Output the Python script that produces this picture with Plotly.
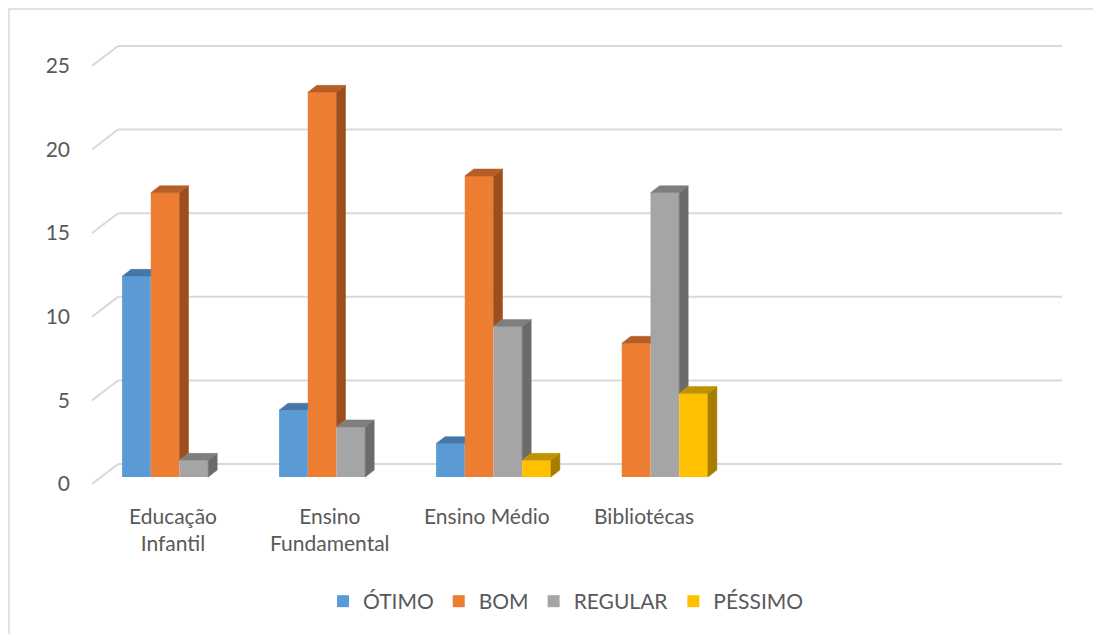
import plotly.graph_objects as go

# ---------------- data ----------------
categories = ["Educação<br>Infantil", "Ensino<br>Fundamental", "Ensino Médio", "Bibliotécas"]
n_slots = 6  # category slots on the axis (last two empty)
series_names = ["ÓTIMO", "BOM", "REGULAR", "PÉSSIMO"]
otimo = [12, 4, 2, 0]
bom = [17, 23, 18, 8]
regular = [1, 3, 9, 17]
pessimo = [0, 0, 1, 5]
y_ticks = [0, 5, 10, 15, 20, 25]

series = [otimo, bom, regular, pessimo]
front_colors = ["#5B9BD5", "#ED7D31", "#A5A5A5", "#FFC000"]
top_colors = ["#4576A5", "#B65E25", "#7E7E7E", "#C29100"]
side_colors = ["#3D6892", "#9C4E1C", "#6B6B6B", "#A67D00"]

# ---------------- geometry (page pixel -> data units) ----------------
OFF = 8                   # page body margin
W, H = 1093, 626          # figure size (page is 1101x634)
PX_X = 157.0      # pixels per category
PX_Y = 16.8       # pixels per value unit
X0_PX = 179.5     # page pixel of category 0 centre
Y0_PX = 479.0     # page pixel of value 0 (front plane)
L_PX, R_PX, T_PX, B_PX = 80, 1080, 30, 495   # plot area in page pixels

w = 28.7 / PX_X           # bar width
dx = 9 / PX_X             # bar depth offset (x)
dy = 7 / PX_Y             # bar depth offset (y)
FX = (92 - X0_PX) / PX_X  # front-left end of grid diagonals
FY = (Y0_PX - 486) / PX_Y
BDX = 26 / PX_X           # wall depth
BDY = 20 / PX_Y
BACK_END = (1062 - X0_PX) / PX_X
LABEL_DX = -7 / PX_X

xr_range = [(L_PX - X0_PX) / PX_X, (R_PX - X0_PX) / PX_X]
yr_range = [(Y0_PX - B_PX) / PX_Y, (Y0_PX - T_PX) / PX_Y]

def px_to_paper_x(px):
    return (px - L_PX) / (R_PX - L_PX)

def px_to_paper_y(py):
    return (B_PX - py) / (B_PX - T_PX)

fig = go.Figure()

# front faces
for k, (name, vals) in enumerate(zip(series_names, series)):
    fig.add_trace(go.Bar(
        name=name,
        x=[i + (k - 1.5) * w for i in range(len(vals))],
        y=vals,
        width=w,
        marker=dict(color=front_colors[k], line=dict(width=0)),
        hovertemplate=name + ": %{y}<extra></extra>",
    ))

# side & top faces
for i in range(len(categories)):
    for k in range(4):
        v = series[k][i]
        if v <= 0:
            continue
        xl = i + (k - 2) * w
        xr = xl + w
        nxt = series[k + 1][i] if k < 3 else 0
        b = min(max(nxt, 0), v)
        if b < v:
            fig.add_trace(go.Scatter(
                x=[xr, xr + dx, xr + dx, xr, xr],
                y=[b, b + dy, v + dy, v, b],
                fill="toself", mode="lines",
                line=dict(width=0.5, color=side_colors[k]),
                fillcolor=side_colors[k],
                hoverinfo="skip", showlegend=False,
            ))
        if nxt >= v:
            tx = [xl, xl + dx, xr, xr, xl]
        else:
            tx = [xl, xl + dx, xr + dx, xr, xl]
        ty = [v, v + dy, v + dy, v, v]
        fig.add_trace(go.Scatter(
            x=tx, y=ty, fill="toself", mode="lines",
            line=dict(width=0.5, color=top_colors[k]),
            fillcolor=top_colors[k],
            hoverinfo="skip", showlegend=False,
        ))

shapes = []
grid_color = "#D9D9D9"
for v in y_ticks:
    shapes.append(dict(type="line", xref="x", yref="y", layer="below",
                       x0=FX, y0=v + FY, x1=FX + BDX, y1=v + FY + BDY,
                       line=dict(color=grid_color, width=2)))
    shapes.append(dict(type="line", xref="x", yref="y", layer="below",
                       x0=FX + BDX, y0=v + FY + BDY, x1=BACK_END, y1=v + FY + BDY,
                       line=dict(color=grid_color, width=2)))
# chart border
shapes.append(dict(type="rect", xref="paper", yref="paper", layer="below",
                   x0=px_to_paper_x(9), y0=px_to_paper_y(645),
                   x1=px_to_paper_x(1110), y1=px_to_paper_y(9),
                   line=dict(color="#D9D9D9", width=1.5)))

font_family = "Lato, Carlito, Calibri, sans-serif"
annotations = []
for i, c in enumerate(categories):
    annotations.append(dict(
        x=i + LABEL_DX, y=px_to_paper_y(503), xref="x", yref="paper",
        text=c, showarrow=False, xanchor="center", yanchor="top",
        font=dict(family=font_family, size=21, color="#595959"),
    ))

fig.update_layout(
    width=W, height=H, autosize=False,
    margin=dict(l=L_PX - OFF, r=(OFF + W) - R_PX, t=T_PX - OFF, b=(OFF + H) - B_PX),
    paper_bgcolor="white", plot_bgcolor="white",
    barmode="overlay",
    showlegend=True,
    legend=dict(orientation="h", x=px_to_paper_x(566), xanchor="center",
                y=px_to_paper_y(604), yanchor="middle",
                font=dict(family=font_family, size=21, color="#595959"),
                itemwidth=30, traceorder="normal"),
    xaxis=dict(range=xr_range, showgrid=False, zeroline=False, showline=False,
               showticklabels=False, ticks="", fixedrange=True),
    yaxis=dict(range=yr_range, showgrid=False, zeroline=False, showline=False,
               tickvals=[v + FY for v in y_ticks], ticktext=[str(v) for v in y_ticks],
               ticks="", ticklabelstandoff=9,
               tickfont=dict(family=font_family, size=21, color="#595959"),
               fixedrange=True),
    shapes=shapes,
    annotations=annotations,
)

fig.write_html("out.html")
